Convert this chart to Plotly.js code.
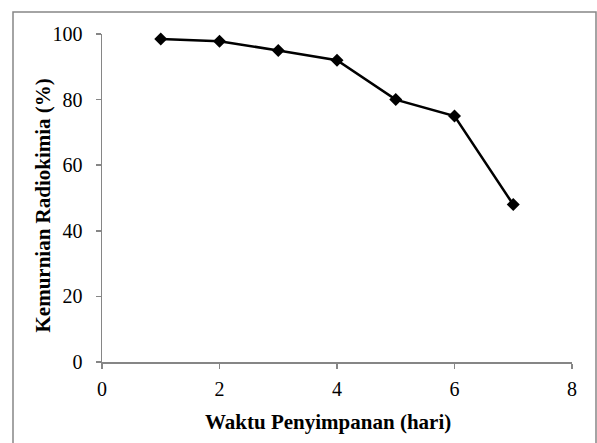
<!DOCTYPE html>
<html>
<head>
<meta charset="utf-8">
<script src="https://cdn.plot.ly/plotly-3.0.1.min.js"></script>
<style>html,body{margin:0;padding:0;background:#fff;}#chart{width:597px;height:443px;}</style>
</head>
<body>
<div id="chart"></div>
<script>
const days = [1, 2, 3, 4, 5, 6, 7];
const purity = [98.5, 97.8, 95.0, 92.0, 80.0, 75.0, 48.0];
const xTicks = [0, 2, 4, 6, 8];
const yTicks = [0, 20, 40, 60, 80, 100];
const xTitle = 'Waktu Penyimpanan (hari)';
const yTitle = 'Kemurnian Radiokimia (%)';

const trace = {
  x: days, y: purity, type: 'scatter', mode: 'lines+markers',
  line: {color: '#000', width: 2.5},
  marker: {symbol: 'diamond', size: 10, color: '#000'},
  cliponaxis: false, showlegend: false
};
const fam = 'Liberation Serif, Times New Roman, serif';
const layout = {
  width: 597, height: 443,
  margin: {l: 102, r: 25, t: 34, b: 81},
  paper_bgcolor: '#fff', plot_bgcolor: '#fff',
  font: {family: fam, color: '#000'},
  xaxis: {
    range: [0, 8], tickvals: xTicks, ticktext: xTicks.map(String),
    showgrid: false, zeroline: false, showline: true, linecolor: '#868686', linewidth: 1.5,
    ticks: 'outside', ticklen: 5, tickcolor: '#868686', tickwidth: 1.5,
    ticklabelstandoff: 3,
    tickfont: {family: fam, size: 20, color: '#000'}
  },
  yaxis: {
    range: [0, 100], tickvals: yTicks, ticktext: yTicks.map(String),
    showgrid: false, zeroline: false, showline: true, linecolor: '#868686', linewidth: 1.5,
    ticks: 'outside', ticklen: 5, tickcolor: '#868686', tickwidth: 1.5,
    ticklabelstandoff: 9,
    tickfont: {family: fam, size: 20, color: '#000'}
  },
  annotations: [
    {text: '<b>' + xTitle + '</b>', xref: 'paper', yref: 'paper', x: (328 - 102) / 470, y: (362 - 422) / 328,
     xanchor: 'center', yanchor: 'middle', showarrow: false, font: {family: fam, size: 21, color: '#000'}},
    {text: '<b>' + yTitle + '</b>', xref: 'paper', yref: 'paper', x: (42 - 102) / 470, y: (362 - 205.5) / 328,
     xanchor: 'center', yanchor: 'middle', textangle: -90, showarrow: false, font: {family: fam, size: 21, color: '#000'}}
  ],
  shapes: [{
    type: 'rect', xref: 'paper', yref: 'paper',
    x0: (13 - 102) / 470, x1: (596 - 102) / 470,
    y0: (362 - 460) / 328, y1: (362 - 12) / 328,
    line: {color: '#868686', width: 1.5}, fillcolor: 'rgba(0,0,0,0)', layer: 'below'
  }]
};
Plotly.newPlot('chart', [trace], layout, {displayModeBar: false, staticPlot: true});
</script>
</body>
</html>
